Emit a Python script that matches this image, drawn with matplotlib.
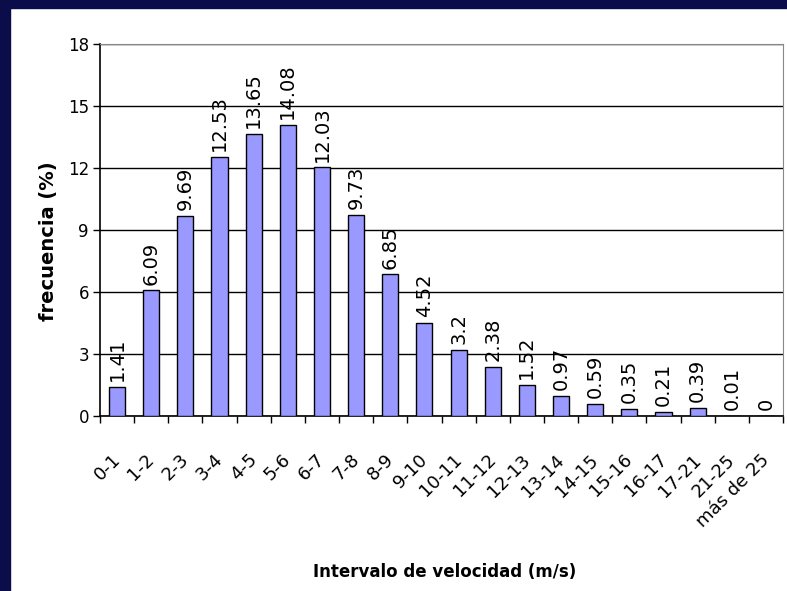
import matplotlib.pyplot as plt
import matplotlib.patches as mpatches
import matplotlib.transforms as mtransforms
import numpy as np

plt.rcParams['font.family'] = ['DejaVu Sans']

intervalos = ["0-1", "1-2", "2-3", "3-4", "4-5", "5-6", "6-7", "7-8", "8-9", "9-10",
              "10-11", "11-12", "12-13", "13-14", "14-15", "15-16", "16-17", "17-21",
              "21-25", "más de 25"]
frecuencia = [1.41, 6.09, 9.69, 12.53, 13.65, 14.08, 12.03, 9.73, 6.85, 4.52,
              3.2, 2.38, 1.52, 0.97, 0.59, 0.35, 0.21, 0.39, 0.01, 0]
etiquetas = ["1.41", "6.09", "9.69", "12.53", "13.65", "14.08", "12.03", "9.73", "6.85", "4.52",
             "3.2", "2.38", "1.52", "0.97", "0.59", "0.35", "0.21", "0.39", "0.01", "0"]
y_ticks = [0, 3, 6, 9, 12, 15, 18]

fig = plt.figure(figsize=(7.87, 5.91), dpi=100)
fig.patch.set_facecolor("white")

# dark frame on the left and top, like the slide it came from
fig.patches.append(mpatches.Rectangle((0, 0), 10 / 787, 1, transform=fig.transFigure,
                                      color="#0b0d4a", zorder=0))
fig.patches.append(mpatches.Rectangle((0, 1 - 8 / 591), 1, 8 / 591, transform=fig.transFigure,
                                      color="#0b0d4a", zorder=0))

ax = fig.add_axes([100 / 787, 1 - 416 / 591, 683 / 787, 372 / 591])

x = np.arange(len(intervalos))
ax.bar(x, frecuencia, width=0.47, color="#9999ff", edgecolor="black", linewidth=1, zorder=3)

for xi, v, t in zip(x, frecuencia, etiquetas):
    ax.annotate(t, (xi, v), xytext=(0, 4), textcoords="offset points",
                rotation=90, ha="center", va="bottom", fontsize=14, zorder=4)

ax.set_xlim(-0.5, len(intervalos) - 0.5)
ax.set_ylim(0, 18)
ax.set_yticks(y_ticks)
ax.set_yticklabels([str(t) for t in y_ticks], fontsize=12)
ax.yaxis.grid(True, color="black", linewidth=1, zorder=1)

ax.set_xticks(x)
ax.set_xticklabels(intervalos, rotation=45, ha="right", rotation_mode="anchor", fontsize=13)
ax.tick_params(axis="x", which="major", length=0, pad=25)
ax.set_xticks(np.arange(len(intervalos) + 1) - 0.5, minor=True)
ax.tick_params(axis="x", which="minor", length=5, width=1, direction="out")
ax.tick_params(axis="y", length=5, width=1, direction="out", pad=3)

shift = mtransforms.ScaledTranslation(-6 / 100, 0, fig.dpi_scale_trans)
for lab in ax.get_xticklabels():
    lab.set_transform(lab.get_transform() + shift)

ax.spines["top"].set_color("#888888")
ax.spines["right"].set_color("#888888")
ax.spines["left"].set_linewidth(1.2)
ax.spines["bottom"].set_linewidth(1.2)

ax.set_ylabel("frecuencia (%)", fontsize=14, fontweight="bold")
ax.yaxis.set_label_coords(-0.061, 0.47)
ax.set_xlabel("Intervalo de velocidad (m/s)", fontsize=12, fontweight="bold")
ax.xaxis.set_label_coords(0.504, -0.395)

fig.savefig("out.png", dpi=100)
